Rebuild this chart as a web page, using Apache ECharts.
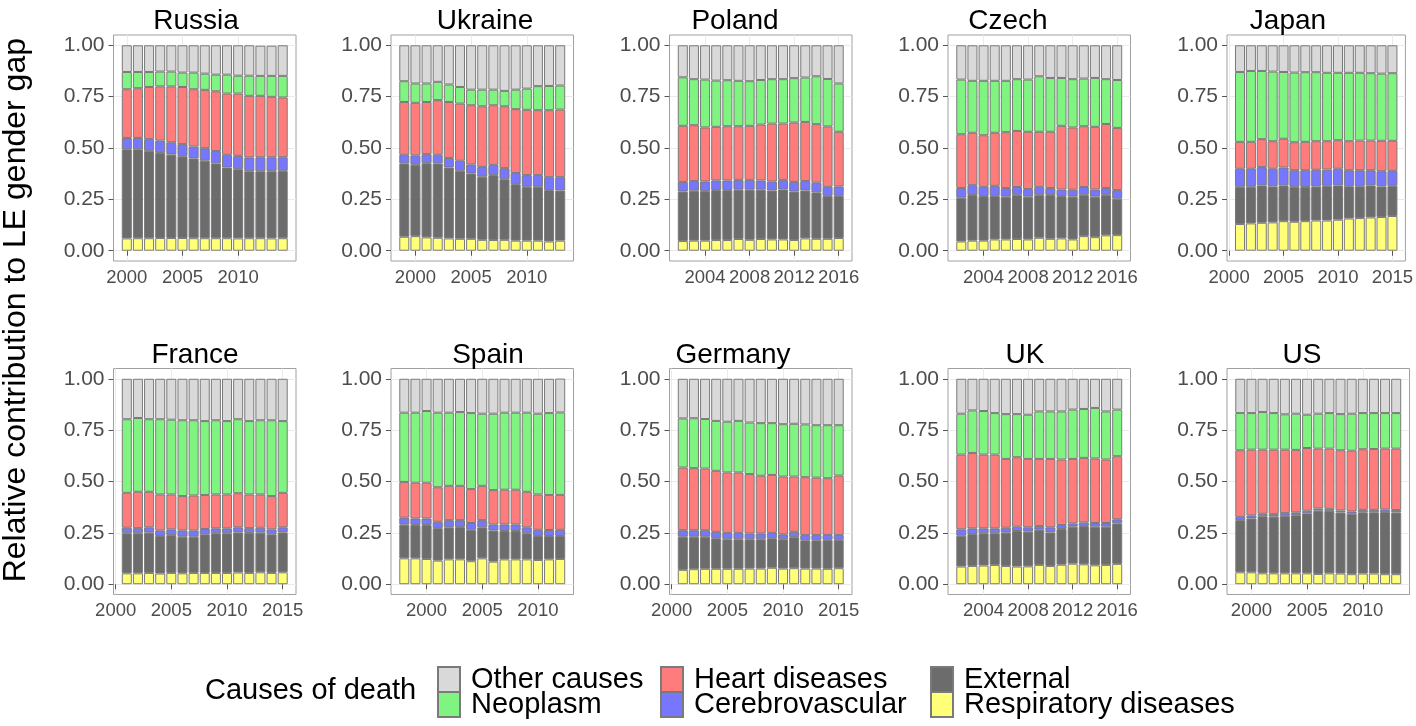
<!DOCTYPE html>
<html><head><meta charset="utf-8">
<script src="https://cdn.jsdelivr.net/npm/echarts@6/dist/echarts.min.js"></script>
<style>html,body{margin:0;padding:0;background:#fff}#c{width:1416px;height:726px}</style>
</head><body><div id="c"></div>
<script>
// ---------------- DATA ----------------
const countries = ['Russia','Ukraine','Poland','Czech','Japan','France','Spain','Germany','UK','US'];
const firstYears = [2000,1999,2002,2002,2001,2001,1998,2001,2002,1999];
const xTickYears = [
  [2000,2005,2010],[2000,2005,2010],[2004,2008,2012,2016],[2004,2008,2012,2016],[2000,2005,2010,2015],
  [2000,2005,2010,2015],[2000,2005,2010],[2000,2005,2010,2015],[2004,2008,2012,2016],[2000,2005,2010]
];
const yTickValues = [0, 0.25, 0.5, 0.75, 1];
// causes, bottom to top of each stack
const causes = ['Respiratory diseases','External','Cerebrovascular','Heart diseases','Neoplasm','Other causes'];

const russia_resp  = [0.060,0.061,0.061,0.062,0.062,0.062,0.061,0.061,0.061,0.061,0.060,0.061,0.061,0.060,0.061];
const russia_ext   = [0.434,0.433,0.425,0.414,0.406,0.398,0.388,0.377,0.364,0.344,0.337,0.326,0.326,0.327,0.328];
const russia_cereb = [0.055,0.055,0.057,0.060,0.060,0.059,0.058,0.061,0.060,0.062,0.065,0.067,0.068,0.068,0.066];
const russia_heart = [0.237,0.242,0.254,0.264,0.272,0.278,0.279,0.284,0.291,0.298,0.303,0.300,0.299,0.294,0.291];
const russia_neo   = [0.084,0.079,0.073,0.072,0.072,0.070,0.081,0.079,0.081,0.092,0.087,0.098,0.097,0.102,0.105];
const russia_other = [0.130,0.130,0.130,0.128,0.128,0.133,0.133,0.138,0.143,0.143,0.148,0.148,0.147,0.147,0.149];

const ukraine_resp  = [0.068,0.071,0.065,0.063,0.060,0.058,0.058,0.053,0.052,0.053,0.049,0.049,0.049,0.045,0.049];
const ukraine_ext   = [0.357,0.347,0.361,0.362,0.345,0.331,0.318,0.307,0.316,0.295,0.275,0.262,0.262,0.250,0.244];
const ukraine_cereb = [0.042,0.046,0.044,0.042,0.046,0.049,0.044,0.048,0.050,0.054,0.054,0.057,0.057,0.063,0.065];
const ukraine_heart = [0.257,0.256,0.254,0.266,0.273,0.278,0.288,0.295,0.290,0.301,0.311,0.318,0.316,0.326,0.329];
const ukraine_neo   = [0.101,0.094,0.090,0.089,0.085,0.081,0.076,0.081,0.076,0.075,0.095,0.103,0.117,0.118,0.117];
const ukraine_other = [0.175,0.186,0.186,0.178,0.191,0.203,0.216,0.216,0.216,0.222,0.216,0.211,0.199,0.198,0.196];

const poland_resp  = [0.047,0.049,0.049,0.052,0.052,0.057,0.053,0.057,0.055,0.055,0.052,0.060,0.058,0.058,0.062];
const poland_ext   = [0.241,0.243,0.241,0.243,0.243,0.240,0.244,0.240,0.238,0.243,0.236,0.233,0.226,0.209,0.205];
const poland_cereb = [0.047,0.047,0.047,0.047,0.047,0.048,0.048,0.045,0.044,0.047,0.047,0.046,0.047,0.044,0.046];
const poland_heart = [0.273,0.272,0.263,0.261,0.264,0.261,0.263,0.272,0.282,0.274,0.289,0.288,0.285,0.294,0.266];
const poland_neo   = [0.236,0.224,0.233,0.225,0.224,0.221,0.217,0.217,0.216,0.216,0.216,0.216,0.233,0.231,0.235];
const poland_other = [0.156,0.165,0.167,0.172,0.170,0.173,0.175,0.169,0.165,0.165,0.160,0.157,0.151,0.164,0.186];

const czech_resp  = [0.045,0.049,0.049,0.055,0.055,0.057,0.055,0.063,0.058,0.060,0.055,0.071,0.066,0.075,0.076];
const czech_ext   = [0.213,0.222,0.217,0.212,0.208,0.215,0.208,0.209,0.213,0.206,0.208,0.201,0.197,0.197,0.177];
const czech_cereb = [0.047,0.048,0.045,0.049,0.042,0.038,0.037,0.039,0.034,0.032,0.034,0.038,0.035,0.033,0.042];
const czech_heart = [0.262,0.255,0.251,0.258,0.272,0.273,0.279,0.268,0.274,0.310,0.303,0.296,0.305,0.312,0.303];
const czech_neo   = [0.266,0.253,0.265,0.253,0.250,0.252,0.254,0.270,0.262,0.233,0.235,0.232,0.238,0.218,0.233];
const czech_other = [0.167,0.173,0.173,0.173,0.173,0.165,0.167,0.151,0.159,0.159,0.165,0.162,0.159,0.165,0.169];

const japan_resp  = [0.130,0.133,0.136,0.138,0.144,0.141,0.144,0.147,0.147,0.151,0.157,0.159,0.162,0.164,0.169];
const japan_ext   = [0.181,0.178,0.182,0.175,0.174,0.170,0.166,0.166,0.169,0.167,0.157,0.155,0.156,0.149,0.147];
const japan_cereb = [0.088,0.088,0.089,0.086,0.087,0.081,0.082,0.081,0.079,0.081,0.078,0.078,0.074,0.074,0.073];
const japan_heart = [0.131,0.131,0.136,0.134,0.140,0.136,0.138,0.139,0.138,0.139,0.141,0.144,0.144,0.148,0.146];
const japan_neo   = [0.340,0.345,0.332,0.339,0.325,0.339,0.339,0.336,0.333,0.328,0.333,0.330,0.328,0.327,0.329];
const japan_other = [0.130,0.125,0.125,0.128,0.130,0.133,0.131,0.131,0.134,0.134,0.134,0.134,0.136,0.138,0.136];

const france_resp  = [0.053,0.053,0.055,0.052,0.055,0.053,0.055,0.055,0.055,0.055,0.057,0.055,0.058,0.055,0.058];
const france_ext   = [0.195,0.195,0.196,0.183,0.184,0.178,0.176,0.188,0.193,0.193,0.195,0.194,0.193,0.188,0.194];
const france_cereb = [0.027,0.025,0.026,0.027,0.028,0.031,0.031,0.026,0.024,0.024,0.025,0.024,0.024,0.024,0.025];
const france_heart = [0.170,0.177,0.173,0.175,0.170,0.167,0.170,0.165,0.165,0.165,0.166,0.164,0.162,0.162,0.168];
const france_neo   = [0.358,0.359,0.353,0.366,0.364,0.369,0.366,0.360,0.361,0.357,0.360,0.357,0.361,0.369,0.349];
const france_other = [0.197,0.191,0.197,0.197,0.199,0.202,0.202,0.206,0.202,0.206,0.197,0.206,0.202,0.202,0.206];

const spain_resp  = [0.126,0.126,0.123,0.115,0.121,0.121,0.112,0.126,0.110,0.121,0.121,0.121,0.118,0.121,0.123];
const spain_ext   = [0.164,0.162,0.165,0.158,0.156,0.157,0.153,0.151,0.151,0.138,0.138,0.127,0.117,0.114,0.112];
const spain_cereb = [0.034,0.032,0.032,0.031,0.035,0.034,0.033,0.035,0.030,0.032,0.032,0.029,0.030,0.029,0.030];
const spain_heart = [0.174,0.174,0.174,0.168,0.167,0.167,0.165,0.167,0.167,0.169,0.169,0.173,0.172,0.170,0.170];
const spain_neo   = [0.337,0.341,0.349,0.363,0.356,0.359,0.370,0.351,0.372,0.375,0.375,0.385,0.393,0.399,0.401];
const spain_other = [0.165,0.165,0.157,0.165,0.165,0.162,0.167,0.170,0.170,0.165,0.165,0.165,0.170,0.167,0.165];

const germany_resp  = [0.070,0.073,0.075,0.075,0.075,0.075,0.076,0.076,0.080,0.076,0.078,0.076,0.076,0.075,0.078];
const germany_ext   = [0.161,0.158,0.156,0.149,0.144,0.144,0.143,0.143,0.144,0.143,0.151,0.138,0.138,0.141,0.138];
const germany_cereb = [0.032,0.032,0.032,0.031,0.031,0.031,0.028,0.028,0.026,0.024,0.026,0.025,0.025,0.024,0.024];
const germany_heart = [0.305,0.302,0.300,0.297,0.294,0.294,0.289,0.281,0.282,0.281,0.269,0.282,0.280,0.276,0.289];
const germany_neo   = [0.239,0.243,0.241,0.243,0.247,0.251,0.251,0.256,0.252,0.255,0.257,0.257,0.255,0.258,0.245];
const germany_other = [0.193,0.192,0.196,0.205,0.209,0.205,0.213,0.216,0.216,0.221,0.219,0.222,0.226,0.226,0.226];

const uk_resp  = [0.086,0.089,0.091,0.094,0.089,0.086,0.087,0.094,0.089,0.095,0.100,0.097,0.092,0.094,0.099];
const uk_ext   = [0.150,0.155,0.157,0.154,0.162,0.173,0.169,0.171,0.163,0.174,0.180,0.186,0.188,0.186,0.197];
const uk_cereb = [0.031,0.028,0.024,0.024,0.024,0.021,0.021,0.018,0.025,0.019,0.016,0.018,0.018,0.018,0.020];
const uk_heart = [0.364,0.367,0.359,0.359,0.335,0.338,0.333,0.327,0.333,0.319,0.314,0.314,0.314,0.309,0.307];
const uk_neo   = [0.199,0.207,0.212,0.202,0.218,0.210,0.215,0.231,0.231,0.234,0.240,0.238,0.246,0.234,0.227];
const uk_other = [0.170,0.154,0.157,0.167,0.172,0.172,0.175,0.159,0.159,0.159,0.150,0.147,0.142,0.159,0.150];

const us_resp  = [0.058,0.058,0.053,0.053,0.053,0.053,0.053,0.050,0.053,0.052,0.049,0.052,0.052,0.049,0.049];
const us_ext   = [0.254,0.262,0.278,0.276,0.280,0.283,0.292,0.308,0.304,0.297,0.294,0.298,0.298,0.302,0.300];
const us_cereb = [0.016,0.015,0.012,0.012,0.013,0.014,0.013,0.011,0.010,0.010,0.011,0.012,0.012,0.013,0.012];
const us_heart = [0.324,0.320,0.312,0.314,0.309,0.304,0.305,0.291,0.293,0.293,0.296,0.295,0.296,0.296,0.299];
const us_neo   = [0.181,0.178,0.183,0.178,0.172,0.176,0.162,0.170,0.173,0.176,0.180,0.176,0.175,0.173,0.173];
const us_other = [0.167,0.167,0.162,0.167,0.173,0.170,0.175,0.170,0.167,0.172,0.170,0.167,0.167,0.167,0.167];

const panelData = [
  [russia_resp, russia_ext, russia_cereb, russia_heart, russia_neo, russia_other],
  [ukraine_resp, ukraine_ext, ukraine_cereb, ukraine_heart, ukraine_neo, ukraine_other],
  [poland_resp, poland_ext, poland_cereb, poland_heart, poland_neo, poland_other],
  [czech_resp, czech_ext, czech_cereb, czech_heart, czech_neo, czech_other],
  [japan_resp, japan_ext, japan_cereb, japan_heart, japan_neo, japan_other],
  [france_resp, france_ext, france_cereb, france_heart, france_neo, france_other],
  [spain_resp, spain_ext, spain_cereb, spain_heart, spain_neo, spain_other],
  [germany_resp, germany_ext, germany_cereb, germany_heart, germany_neo, germany_other],
  [uk_resp, uk_ext, uk_cereb, uk_heart, uk_neo, uk_other],
  [us_resp, us_ext, us_cereb, us_heart, us_neo, us_other]
];

// ---------------- STYLE / LAYOUT ----------------
const FONT = 'Liberation Sans, Arial, sans-serif';
const causeColors = ['#FFFF78','#6C6C6C','#7676FF','#FF7C7C','#80F480','#D9D9D9'];
const panelLefts = [113.5, 391, 669.5, 948, 1227];
const panelTops = [35, 368.5];
const panelW = 182.5, panelH = 226;
const titleCenters = [191, 480, 730, 1003, 1283, 190, 483, 728, 1020, 1297];
const titleTops = [2, 336];

const grid = [], xAxis = [], yAxis = [], series = [], title = [];
countries.forEach((name, i) => {
  const row = Math.floor(i / 5), col = i % 5;
  const years = panelData[i][0].map((_, k) => firstYears[i] + k);
  const xmin = years[0] - 1.195, xmax = years[years.length - 1] + 1.195;
  const barW = 0.9 * panelW / (xmax - xmin);
  grid.push({left: panelLefts[col], top: panelTops[row], width: panelW, height: panelH,
    show: true, borderColor: '#a0a0a0', borderWidth: 1, backgroundColor: '#fff', containLabel: false});
  xAxis.push({type: 'value', gridIndex: i, min: xmin, max: xmax,
    axisLine: {show: false},
    axisTick: {show: true, length: 5, lineStyle: {color: '#555'}, customValues: xTickYears[i]},
    axisLabel: {show: true, margin: 7, color: '#4d4d4d', fontSize: 18.5, fontFamily: FONT,
      customValues: xTickYears[i], formatter: v => String(v)},
    splitLine: {show: true, lineStyle: {color: '#ebebeb', width: 1}}});
  yAxis.push({type: 'value', gridIndex: i, min: -0.05, max: 1.05,
    axisLine: {show: false},
    axisTick: {show: true, length: 5, lineStyle: {color: '#555'}, customValues: yTickValues},
    axisLabel: {show: true, margin: 9, color: '#4d4d4d', fontSize: 21, fontFamily: FONT,
      customValues: yTickValues, formatter: v => v.toFixed(2)},
    splitLine: {show: true, lineStyle: {color: '#ebebeb', width: 1}}});
  title.push({text: name, left: titleCenters[i], top: titleTops[row], textAlign: 'center',
    textStyle: {fontSize: 28, fontWeight: 'normal', color: '#000', fontFamily: FONT}});
  causes.forEach((c, j) => {
    series.push({type: 'bar', name: c, xAxisIndex: i, yAxisIndex: i, stack: 'p' + i,
      barWidth: barW, animation: false,
      encode: {x: 1, y: 0},
      itemStyle: {color: causeColors[j], borderColor: '#7a7a7a', borderWidth: 1},
      // each point: [share, year]
      data: years.map((y, k) => [panelData[i][j][k], y])});
  });
});

const legendBase = {orient: 'vertical', top: 665, itemWidth: 22, itemHeight: 25, itemGap: -4,
  padding: 0, icon: 'rect', selectedMode: false,
  textStyle: {fontSize: 29, color: '#000', fontFamily: FONT, padding: [0, 0, 0, 6]}};
const legend = [
  Object.assign({}, legendBase, {left: 437, data: ['Other causes', 'Neoplasm']}),
  Object.assign({}, legendBase, {left: 660, data: ['Heart diseases', 'Cerebrovascular']}),
  Object.assign({}, legendBase, {left: 930, data: ['External', 'Respiratory diseases']})
];

const chart = echarts.init(document.getElementById('c'), null, {renderer: 'canvas'});
chart.setOption({
  animation: false,
  backgroundColor: '#fff',
  title, grid, xAxis, yAxis, series, legend,
  graphic: [
    {type: 'text', left: 0, top: 38, rotation: Math.PI / 2, originX: 0, originY: 0,
      style: {text: 'Relative contribution to LE gender gap', fontSize: 32, fill: '#000', fontFamily: FONT}},
    {type: 'text', left: 205, top: 676,
      style: {text: 'Causes of death', fontSize: 29, fill: '#000', fontFamily: FONT}}
  ]
});
</script></body></html>
